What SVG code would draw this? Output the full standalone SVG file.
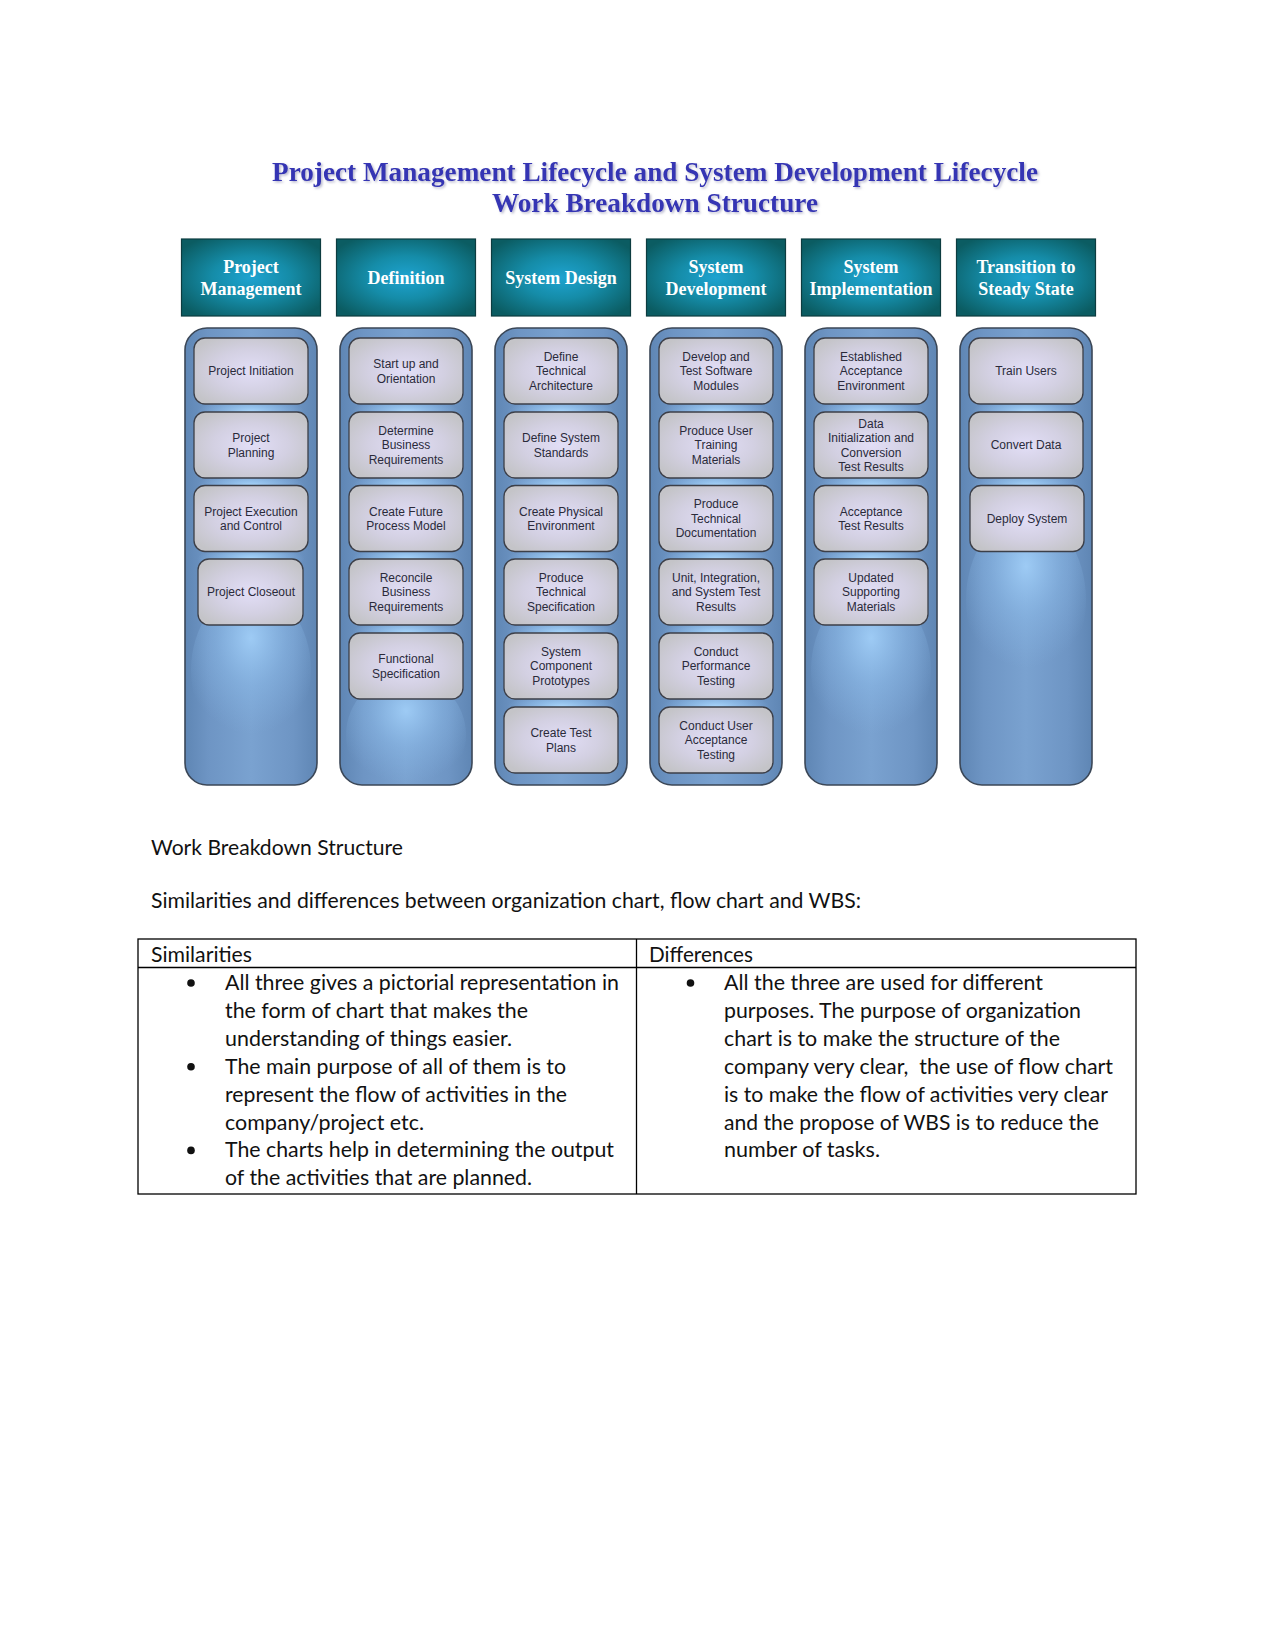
<svg xmlns="http://www.w3.org/2000/svg" width="1275" height="1651" viewBox="0 0 1275 1651">
<defs>
  <radialGradient id="hdr" cx="50%" cy="50%" r="62%">
    <stop offset="0" stop-color="#1ea3d0"/>
    <stop offset="0.45" stop-color="#158ca8"/>
    <stop offset="1" stop-color="#0b5c62"/>
  </radialGradient>
  <linearGradient id="colfill" x1="0" y1="0" x2="1" y2="0">
    <stop offset="0" stop-color="#5f86b4"/>
    <stop offset="0.18" stop-color="#6e95c4"/>
    <stop offset="0.5" stop-color="#7aa2d0"/>
    <stop offset="0.82" stop-color="#6e95c4"/>
    <stop offset="1" stop-color="#5f86b4"/>
  </linearGradient>
  <radialGradient id="glow" cx="50%" cy="50%" r="50%">
    <stop offset="0" stop-color="#acdaff" stop-opacity="0.95"/>
    <stop offset="0.6" stop-color="#98c8f4" stop-opacity="0.45"/>
    <stop offset="1" stop-color="#8cbcec" stop-opacity="0"/>
  </radialGradient>
  <radialGradient id="glowbig" cx="50%" cy="30%" r="60%">
    <stop offset="0" stop-color="#a4d2fb" stop-opacity="0.85"/>
    <stop offset="0.5" stop-color="#92c2f0" stop-opacity="0.4"/>
    <stop offset="1" stop-color="#8cbcec" stop-opacity="0"/>
  </radialGradient>
  <radialGradient id="boxfill" cx="50%" cy="50%" r="60%">
    <stop offset="0" stop-color="#e2def7"/>
    <stop offset="0.55" stop-color="#d3d0e2"/>
    <stop offset="1" stop-color="#c4c4c8"/>
  </radialGradient>
  <filter id="tshadow" x="-5%" y="-30%" width="110%" height="160%">
    <feDropShadow dx="1.5" dy="1.5" stdDeviation="0.8" flood-color="#9a9ab8" flood-opacity="0.7"/>
  </filter>
  <style>
    .title{font-family:"Liberation Serif","Times New Roman",serif;font-weight:bold;font-size:27px;fill:#3434b4;text-anchor:middle;}
    .hbox{fill:url(#hdr);stroke:#0d3c40;stroke-width:1.2;}
    .htxt{font-family:"Liberation Serif","Times New Roman",serif;font-weight:bold;font-size:18px;fill:#ffffff;text-anchor:middle;}
    .col{fill:url(#colfill);stroke:#3b4757;stroke-width:1.6;}
    .glow{fill:url(#glow);}
    .glowbig{fill:url(#glowbig);}
    .box{fill:url(#boxfill);stroke:#3c3f48;stroke-width:1.3;}
    .btxt{font-family:"Liberation Sans",Arial,sans-serif;font-size:12px;fill:#2a2a3a;text-anchor:middle;}
    .body{font-family:Lato,"Open Sans",sans-serif;font-size:21px;fill:#111111;}
    .tline{stroke:#000000;stroke-width:1.3;fill:none;}
    .bullet{fill:#111111;}
  </style>
</defs>
<rect x="0" y="0" width="1275" height="1651" fill="#ffffff"/>

<g id="title" filter="url(#tshadow)">
  <text class="title" x="655" y="181" textLength="766" lengthAdjust="spacingAndGlyphs">Project Management Lifecycle and System Development Lifecycle</text>
  <text class="title" x="655" y="212" textLength="326" lengthAdjust="spacingAndGlyphs">Work Breakdown Structure</text>
</g>

<!-- Headers -->
<g id="hdr-pm"><rect class="hbox" x="181.5" y="239" width="139" height="77"/><text class="htxt" x="251" y="272.5">Project</text><text class="htxt" x="251" y="295">Management</text></g>
<g id="hdr-def"><rect class="hbox" x="336.5" y="239" width="139" height="77"/><text class="htxt" x="406" y="284">Definition</text></g>
<g id="hdr-sd"><rect class="hbox" x="491.5" y="239" width="139" height="77"/><text class="htxt" x="561" y="284">System Design</text></g>
<g id="hdr-sdev"><rect class="hbox" x="646.5" y="239" width="139" height="77"/><text class="htxt" x="716" y="272.5">System</text><text class="htxt" x="716" y="295">Development</text></g>
<g id="hdr-si"><rect class="hbox" x="801.5" y="239" width="139" height="77"/><text class="htxt" x="871" y="272.5">System</text><text class="htxt" x="871" y="295">Implementation</text></g>
<g id="hdr-tss"><rect class="hbox" x="956.5" y="239" width="139" height="77"/><text class="htxt" x="1026" y="272.5">Transition to</text><text class="htxt" x="1026" y="295">Steady State</text></g>

<!-- Column 1 -->
<g id="col-pm">
  <rect class="col" x="185" y="328" width="132" height="457" rx="22"/>
  <ellipse class="glow" cx="251" cy="412" rx="54" ry="14"/>
  <ellipse class="glow" cx="251" cy="486" rx="54" ry="14"/>
  <ellipse class="glow" cx="251" cy="559" rx="54" ry="14"/>
  <ellipse class="glowbig" cx="251" cy="670" rx="60" ry="80"/>
  <g id="pm-1"><rect class="box" x="194" y="338" width="114" height="66" rx="11"/><text class="btxt" x="251" y="375.3">Project Initiation</text></g>
  <g id="pm-2"><rect class="box" x="194" y="412" width="114" height="66" rx="11"/><text class="btxt" x="251" y="442.1">Project<tspan x="251" dy="14.4">Planning</tspan></text></g>
  <g id="pm-3"><rect class="box" x="194" y="485.5" width="114" height="66" rx="11"/><text class="btxt" x="251" y="515.6">Project Execution<tspan x="251" dy="14.4">and Control</tspan></text></g>
  <g id="pm-4"><rect class="box" x="198" y="559" width="105" height="66" rx="11"/><text class="btxt" x="251" y="596.3">Project Closeout</text></g>
</g>

<!-- Column 2 -->
<g id="col-def">
  <rect class="col" x="340" y="328" width="132" height="457" rx="22"/>
  <ellipse class="glow" cx="406" cy="412" rx="54" ry="14"/>
  <ellipse class="glow" cx="406" cy="486" rx="54" ry="14"/>
  <ellipse class="glow" cx="406" cy="559" rx="54" ry="14"/>
  <ellipse class="glow" cx="406" cy="633" rx="54" ry="14"/>
  <ellipse class="glowbig" cx="406" cy="735" rx="60" ry="60"/>
  <g id="def-1"><rect class="box" x="349" y="338" width="114" height="66" rx="11"/><text class="btxt" x="406" y="368.1">Start up and<tspan x="406" dy="14.4">Orientation</tspan></text></g>
  <g id="def-2"><rect class="box" x="349" y="412" width="114" height="66" rx="11"/><text class="btxt" x="406" y="434.9">Determine<tspan x="406" dy="14.4">Business</tspan><tspan x="406" dy="14.4">Requirements</tspan></text></g>
  <g id="def-3"><rect class="box" x="349" y="485.5" width="114" height="66" rx="11"/><text class="btxt" x="406" y="515.6">Create Future<tspan x="406" dy="14.4">Process Model</tspan></text></g>
  <g id="def-4"><rect class="box" x="349" y="559" width="114" height="66" rx="11"/><text class="btxt" x="406" y="581.9">Reconcile<tspan x="406" dy="14.4">Business</tspan><tspan x="406" dy="14.4">Requirements</tspan></text></g>
  <g id="def-5"><rect class="box" x="349" y="633" width="114" height="66" rx="11"/><text class="btxt" x="406" y="663.1">Functional<tspan x="406" dy="14.4">Specification</tspan></text></g>
</g>

<!-- Column 3 -->
<g id="col-sd">
  <rect class="col" x="495" y="328" width="132" height="457" rx="22"/>
  <ellipse class="glow" cx="561" cy="412" rx="54" ry="14"/>
  <ellipse class="glow" cx="561" cy="486" rx="54" ry="14"/>
  <ellipse class="glow" cx="561" cy="559" rx="54" ry="14"/>
  <ellipse class="glow" cx="561" cy="633" rx="54" ry="14"/>
  <ellipse class="glow" cx="561" cy="707" rx="54" ry="14"/>
  <g id="sd-1"><rect class="box" x="504" y="338" width="114" height="66" rx="11"/><text class="btxt" x="561" y="360.9">Define<tspan x="561" dy="14.4">Technical</tspan><tspan x="561" dy="14.4">Architecture</tspan></text></g>
  <g id="sd-2"><rect class="box" x="504" y="412" width="114" height="66" rx="11"/><text class="btxt" x="561" y="442.1">Define System<tspan x="561" dy="14.4">Standards</tspan></text></g>
  <g id="sd-3"><rect class="box" x="504" y="485.5" width="114" height="66" rx="11"/><text class="btxt" x="561" y="515.6">Create Physical<tspan x="561" dy="14.4">Environment</tspan></text></g>
  <g id="sd-4"><rect class="box" x="504" y="559" width="114" height="66" rx="11"/><text class="btxt" x="561" y="581.9">Produce<tspan x="561" dy="14.4">Technical</tspan><tspan x="561" dy="14.4">Specification</tspan></text></g>
  <g id="sd-5"><rect class="box" x="504" y="633" width="114" height="66" rx="11"/><text class="btxt" x="561" y="655.9">System<tspan x="561" dy="14.4">Component</tspan><tspan x="561" dy="14.4">Prototypes</tspan></text></g>
  <g id="sd-6"><rect class="box" x="504" y="707" width="114" height="66" rx="11"/><text class="btxt" x="561" y="737.1">Create Test<tspan x="561" dy="14.4">Plans</tspan></text></g>
</g>

<!-- Column 4 -->
<g id="col-sdev">
  <rect class="col" x="650" y="328" width="132" height="457" rx="22"/>
  <ellipse class="glow" cx="716" cy="412" rx="54" ry="14"/>
  <ellipse class="glow" cx="716" cy="486" rx="54" ry="14"/>
  <ellipse class="glow" cx="716" cy="559" rx="54" ry="14"/>
  <ellipse class="glow" cx="716" cy="633" rx="54" ry="14"/>
  <ellipse class="glow" cx="716" cy="707" rx="54" ry="14"/>
  <g id="sdev-1"><rect class="box" x="659" y="338" width="114" height="66" rx="11"/><text class="btxt" x="716" y="360.9">Develop and<tspan x="716" dy="14.4">Test Software</tspan><tspan x="716" dy="14.4">Modules</tspan></text></g>
  <g id="sdev-2"><rect class="box" x="659" y="412" width="114" height="66" rx="11"/><text class="btxt" x="716" y="434.9">Produce User<tspan x="716" dy="14.4">Training</tspan><tspan x="716" dy="14.4">Materials</tspan></text></g>
  <g id="sdev-3"><rect class="box" x="659" y="485.5" width="114" height="66" rx="11"/><text class="btxt" x="716" y="508.4">Produce<tspan x="716" dy="14.4">Technical</tspan><tspan x="716" dy="14.4">Documentation</tspan></text></g>
  <g id="sdev-4"><rect class="box" x="659" y="559" width="114" height="66" rx="11"/><text class="btxt" x="716" y="581.9">Unit, Integration,<tspan x="716" dy="14.4">and System Test</tspan><tspan x="716" dy="14.4">Results</tspan></text></g>
  <g id="sdev-5"><rect class="box" x="659" y="633" width="114" height="66" rx="11"/><text class="btxt" x="716" y="655.9">Conduct<tspan x="716" dy="14.4">Performance</tspan><tspan x="716" dy="14.4">Testing</tspan></text></g>
  <g id="sdev-6"><rect class="box" x="659" y="707" width="114" height="66" rx="11"/><text class="btxt" x="716" y="729.9">Conduct User<tspan x="716" dy="14.4">Acceptance</tspan><tspan x="716" dy="14.4">Testing</tspan></text></g>
</g>

<!-- Column 5 -->
<g id="col-si">
  <rect class="col" x="805" y="328" width="132" height="457" rx="22"/>
  <ellipse class="glow" cx="871" cy="412" rx="54" ry="14"/>
  <ellipse class="glow" cx="871" cy="486" rx="54" ry="14"/>
  <ellipse class="glow" cx="871" cy="559" rx="54" ry="14"/>
  <ellipse class="glowbig" cx="871" cy="670" rx="60" ry="80"/>
  <g id="si-1"><rect class="box" x="814" y="338" width="114" height="66" rx="11"/><text class="btxt" x="871" y="360.9">Established<tspan x="871" dy="14.4">Acceptance</tspan><tspan x="871" dy="14.4">Environment</tspan></text></g>
  <g id="si-2"><rect class="box" x="814" y="412" width="114" height="66" rx="11"/><text class="btxt" x="871" y="427.7">Data<tspan x="871" dy="14.4">Initialization and</tspan><tspan x="871" dy="14.4">Conversion</tspan><tspan x="871" dy="14.4">Test Results</tspan></text></g>
  <g id="si-3"><rect class="box" x="814" y="485.5" width="114" height="66" rx="11"/><text class="btxt" x="871" y="515.6">Acceptance<tspan x="871" dy="14.4">Test Results</tspan></text></g>
  <g id="si-4"><rect class="box" x="814" y="559" width="114" height="66" rx="11"/><text class="btxt" x="871" y="581.9">Updated<tspan x="871" dy="14.4">Supporting</tspan><tspan x="871" dy="14.4">Materials</tspan></text></g>
</g>

<!-- Column 6 -->
<g id="col-tss">
  <rect class="col" x="960" y="328" width="132" height="457" rx="22"/>
  <ellipse class="glow" cx="1026" cy="412" rx="54" ry="14"/>
  <ellipse class="glow" cx="1026" cy="486" rx="54" ry="14"/>
  <ellipse class="glowbig" cx="1026" cy="600" rx="60" ry="85"/>
  <g id="tss-1"><rect class="box" x="969" y="338" width="114" height="66" rx="11"/><text class="btxt" x="1026" y="375.3">Train Users</text></g>
  <g id="tss-2"><rect class="box" x="969" y="412" width="114" height="66" rx="11"/><text class="btxt" x="1026" y="449.3">Convert Data</text></g>
  <g id="tss-3"><rect class="box" x="970" y="485.5" width="114" height="66" rx="11"/><text class="btxt" x="1027" y="522.8">Deploy System</text></g>
</g>

<g id="connectors"></g>

<!-- Body text -->
<g id="body-text">
  <text class="body" x="151" y="855" textLength="252" lengthAdjust="spacingAndGlyphs">Work Breakdown Structure</text>
  <text class="body" x="151" y="908" textLength="710" lengthAdjust="spacingAndGlyphs">Similarities and differences between organization chart, flow chart and WBS:</text>
</g>

<!-- Table -->
<g id="table">
  <rect class="tline" x="138" y="939" width="998" height="255"/>
  <line class="tline" x1="138" y1="967.5" x2="1136" y2="967.5"/>
  <line class="tline" x1="636.5" y1="939" x2="636.5" y2="1194"/>
  <text class="body" x="151" y="962" textLength="101" lengthAdjust="spacingAndGlyphs">Similarities</text>
  <text class="body" x="649" y="962" textLength="104" lengthAdjust="spacingAndGlyphs">Differences</text>

  <circle class="bullet" cx="191" cy="983" r="3.8"/>
  <circle class="bullet" cx="191" cy="1066.7" r="3.8"/>
  <circle class="bullet" cx="191" cy="1150.4" r="3.8"/>
  <text class="body" x="225" y="990" textLength="394" lengthAdjust="spacingAndGlyphs">All three gives a pictorial representation in</text>
  <text class="body" x="225" y="1017.9" textLength="303" lengthAdjust="spacingAndGlyphs">the form of chart that makes the</text>
  <text class="body" x="225" y="1045.8" textLength="287" lengthAdjust="spacingAndGlyphs">understanding of things easier.</text>
  <text class="body" x="225" y="1073.7" textLength="341" lengthAdjust="spacingAndGlyphs">The main purpose of all of them is to</text>
  <text class="body" x="225" y="1101.6" textLength="342" lengthAdjust="spacingAndGlyphs">represent the flow of activities in the</text>
  <text class="body" x="225" y="1129.5" textLength="199" lengthAdjust="spacingAndGlyphs">company/project etc.</text>
  <text class="body" x="225" y="1157.4" textLength="389" lengthAdjust="spacingAndGlyphs">The charts help in determining the output</text>
  <text class="body" x="225" y="1185.3" textLength="307" lengthAdjust="spacingAndGlyphs">of the activities that are planned.</text>

  <circle class="bullet" cx="690.5" cy="983" r="3.8"/>
  <text class="body" x="724" y="990" textLength="319" lengthAdjust="spacingAndGlyphs">All the three are used for different</text>
  <text class="body" x="724" y="1017.9" textLength="357" lengthAdjust="spacingAndGlyphs">purposes. The purpose of organization</text>
  <text class="body" x="724" y="1045.8" textLength="336" lengthAdjust="spacingAndGlyphs">chart is to make the structure of the</text>
  <text class="body" x="724" y="1073.7" textLength="389" lengthAdjust="spacingAndGlyphs" xml:space="preserve">company very clear,  the use of flow chart</text>
  <text class="body" x="724" y="1101.6" textLength="384" lengthAdjust="spacingAndGlyphs">is to make the flow of activities very clear</text>
  <text class="body" x="724" y="1129.5" textLength="375" lengthAdjust="spacingAndGlyphs">and the propose of WBS is to reduce the</text>
  <text class="body" x="724" y="1157.4" textLength="156" lengthAdjust="spacingAndGlyphs">number of tasks.</text>
</g>
</svg>
